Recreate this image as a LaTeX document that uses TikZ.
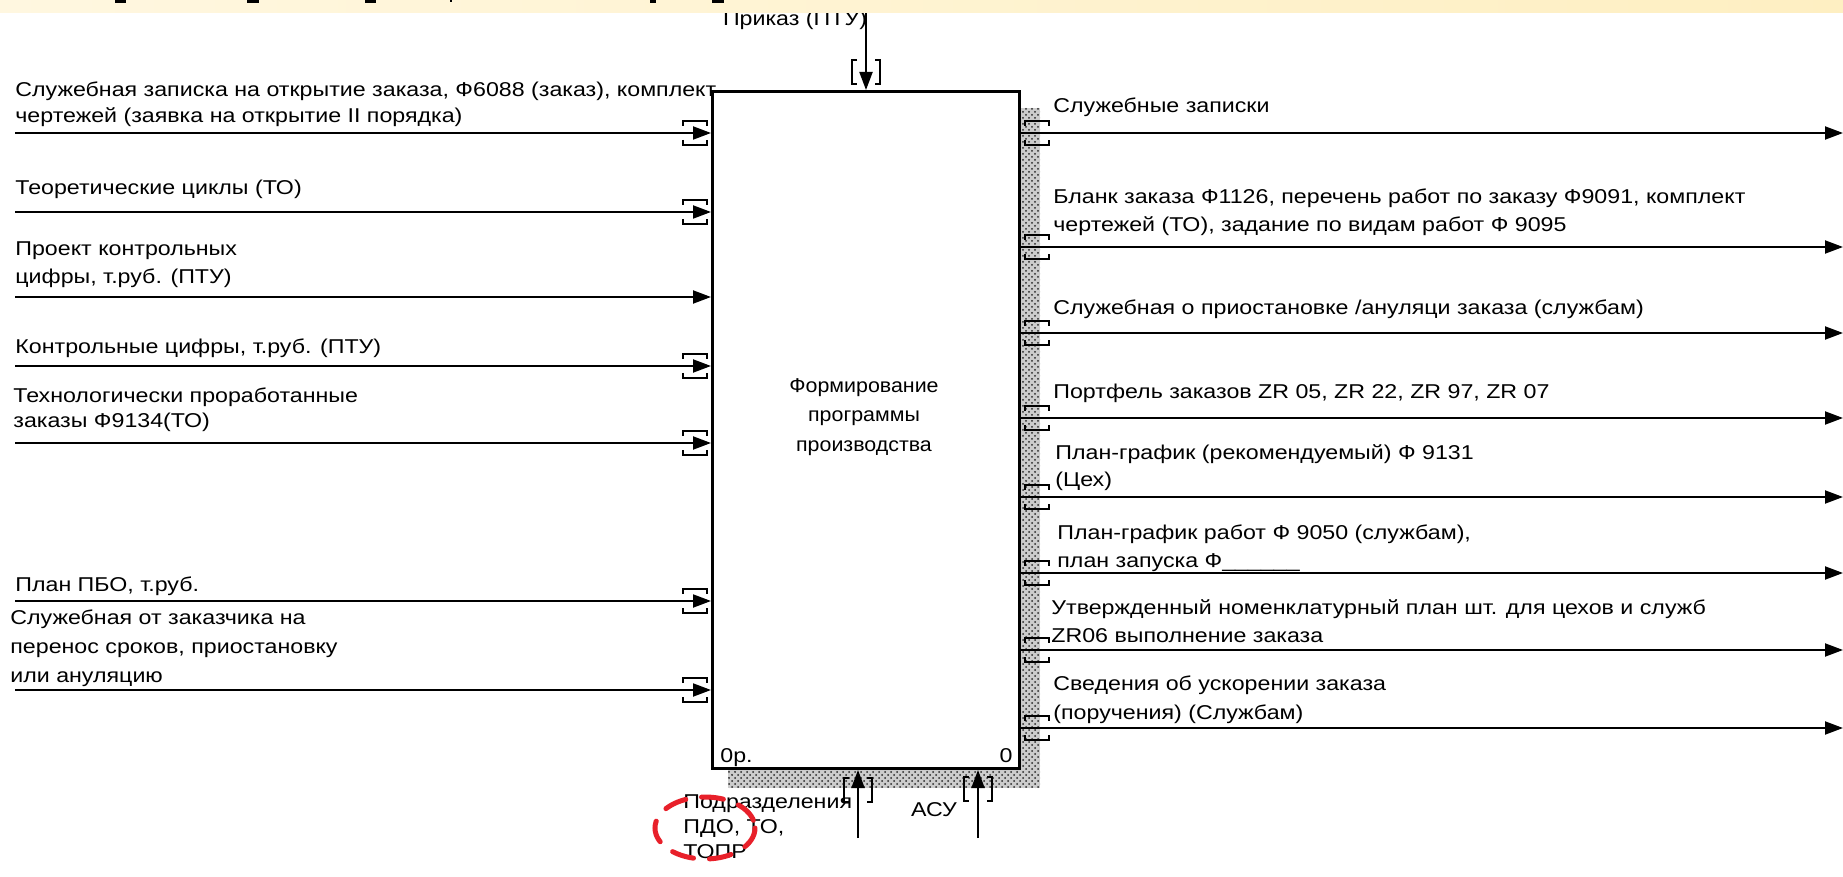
\documentclass[tikz,border=0pt]{standalone}
\usepackage{fontspec}
\setmainfont{Liberation Sans}
\newfontfamily\lblfont{Liberation Sans}[FakeStretch=1.16]
\newfontfamily\ttlfont{Liberation Sans}[FakeStretch=1.07]
\usetikzlibrary{arrows.meta,patterns}
\definecolor{bandL}{HTML}{FFF7E0}
\definecolor{bandR}{HTML}{FEEFC2}
\definecolor{annred}{HTML}{E8202A}
\begin{document}
\begin{tikzpicture}[x=0.5pt,y=-0.5pt,
  lbl/.style={anchor=base west, inner sep=0pt, align=left, font=\lblfont\fontsize{10}{13.5}\selectfont},
  arr/.style={line width=1pt, -{Triangle[length=9pt,width=6.5pt]}},
  tun/.style={line width=0.75pt},
  tunh/.pic={\draw[tun] (-12,-7) -- (-12,-12) -- (12,-12) -- (12,-7);
             \draw[tun] (-12,7) -- (-12,12) -- (12,12) -- (12,7);},
  tunv/.pic={\draw[tun] (-9,-12) -- (-14,-12) -- (-14,12) -- (-9,12);
             \draw[tun] (9,-12) -- (14,-12) -- (14,12) -- (9,12);},
  shadow/.style={fill=gray!40, postaction={pattern=crosshatch dots, pattern color=black!85}}
]
\useasboundingbox (0,0) rectangle (1843,877);
\fill[white] (0,0) rectangle (1843,877);

% shadow of the activity box
\path[shadow] (1018,108) rectangle (1040,788);
\path[shadow] (728,767) rectangle (1040,788);

% activity box
\node[draw, line width=1.5pt, fill=white, minimum width=153.5pt, minimum height=338.5pt,
      inner sep=0pt, anchor=north west] (box) at (711,90) {};
\node[align=center, font=\ttlfont\fontsize{10}{14.75}\selectfont] (title) at (864,417)
  {Формирование\\программы\\производства};
\node[anchor=base west, inner sep=0pt, font=\lblfont\fontsize{10}{12}\selectfont] (num1) at (720,762) {0р.};
\node[anchor=base east, inner sep=0pt, font=\lblfont\fontsize{10}{12}\selectfont] (num2) at (1013,762) {0};

% control
\node[inner sep=0pt, font=\lblfont\fontsize{10}{12}\selectfont] (lc1) at (795,20) {Приказ (ПТУ)};
\coordinate (c1) at (866,0);
\draw[arr] (c1) -- (c1 |- box.north);
\pic at (866,72) {tunv};

% inputs
\foreach \n/\y in {1/133,2/212,3/297,4/366,5/443,6/601,7/690}{
  \coordinate (i\n) at (15,\y);
  \draw[arr] (i\n) -- (i\n -| box.west);
}
\foreach \y in {133,212,366,443,601,690}{ \pic at (695,\y) {tunh}; }

% (multi-line labels: the base anchor is the baseline of the last line)
\node[lbl, font=\lblfont\fontsize{10}{13}\selectfont] (li1) at (15,123) {Служебная записка на открытие заказа, Ф6088 (заказ), комплект\\чертежей (заявка на открытие II порядка)};
\node[lbl] (li2) at (15,195) {Теоретические циклы (ТО)};
\node[lbl, font=\lblfont\fontsize{10}{14}\selectfont] (li3) at (15,284) {Проект контрольных\\цифры, т.руб. (ПТУ)};
\node[lbl] (li4) at (15,354) {Контрольные цифры, т.руб. (ПТУ)};
\node[lbl, font=\lblfont\fontsize{10}{13}\selectfont] (li5) at (13,428) {Технологически проработанные\\заказы Ф9134(ТО)};
\node[lbl] (li6) at (15,591) {План ПБО, т.руб.};
\node[lbl, font=\lblfont\fontsize{10}{14.5}\selectfont] (li7) at (10,682) {Служебная от заказчика на\\перенос сроков, приостановку\\или ануляцию};

% outputs
\foreach \n/\y in {1/133,2/247,3/333,4/418,5/497,6/573,7/650,8/728}{
  \coordinate (o\n) at (1843,\y);
  \draw[arr] (o\n -| box.east) -- (o\n);
  \pic at (1037,\y) {tunh};
}
\node[lbl] (lo1) at (1053,113) {Служебные записки};
\node[lbl, font=\lblfont\fontsize{10}{14}\selectfont] (lo2) at (1053,232) {Бланк заказа Ф1126, перечень работ по заказу Ф9091, комплект\\чертежей (ТО), задание по видам работ Ф 9095};
\node[lbl] (lo3) at (1053,315) {Служебная о приостановке /ануляци заказа (службам)};
\node[lbl] (lo4) at (1053,399) {Портфель заказов ZR 05, ZR 22, ZR 97, ZR 07};
\node[lbl] (lo5) at (1055,487) {План-график (рекомендуемый) Ф 9131\\(Цех)};
\node[lbl] (lo6) at (1057,567) {План-график работ Ф 9050 (службам),\\план запуска Ф\_\_\_\_\_\_};
\node[lbl, font=\lblfont\fontsize{10}{14}\selectfont] (lo7) at (1051,642) {Утвержденный номенклатурный план шт. для цехов и служб\\ZR06 выполнение заказа};
\node[lbl, font=\lblfont\fontsize{10}{14.5}\selectfont] (lo8) at (1053,719) {Сведения об ускорении заказа\\(поручения) (Службам)};

% mechanisms
\coordinate (m1) at (858,838);
\coordinate (m2) at (978,838);
\draw[arr] (m1) -- (m1 |- box.south);
\draw[arr] (m2) -- (m2 |- box.south);
\pic at (858,790) {tunv};
\pic at (978,789) {tunv};
\node[lbl, font=\lblfont\fontsize{10}{12.5}\selectfont] (lm1) at (683,858) {Подразделения\\ПДО, ТО,\\ТОПР};
\node[inner sep=0pt, font=\lblfont\fontsize{10}{12}\selectfont] (lm2) at (934,810) {АСУ};

% red hand annotation
\draw[annred, line width=2.5pt, line cap=round, dash pattern=on 11pt off 8pt]
  (705,828) ellipse [x radius=50, y radius=31];

% top band with cut-off title remnants
\shade[left color=bandL, right color=bandR] (0,0) rectangle (1843,13);
\foreach \a/\b in {115/126,247/259,365/376,712/724}{ \fill (\a,0) rectangle (\b,3); }
\fill (450,0) rectangle (452,2);
\fill (650,0) rectangle (656,3);
\end{tikzpicture}
\end{document}
